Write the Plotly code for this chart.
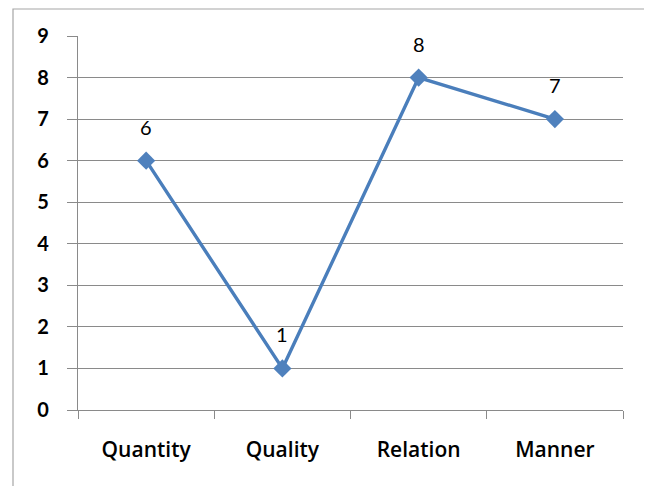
import plotly.graph_objects as go

categories = ["Quantity", "Quality", "Relation", "Manner"]
values = [6, 1, 8, 7]
y_ticks = [0, 1, 2, 3, 4, 5, 6, 7, 8, 9]

W, H = 652, 486
OFF = 8  # browser body margin
L, R, T, B = 78 - OFF, 29 + OFF, 36 - OFF, 76 + OFF
pw, ph = W - L - R, H - T - B

def px_to_paper_x(px):
    return (px - OFF - L) / pw

def px_to_paper_y(py):
    return (H - B - (py - OFF)) / ph

font_family = "Lato, 'Open Sans', sans-serif"
cat_font = "'Open Sans', Lato, sans-serif"
grid_col = "#8a8a8a"

fig = go.Figure()
fig.add_trace(go.Scatter(
    x=categories, y=values,
    mode="lines+markers",
    line=dict(color="#4A7EBB", width=3.4),
    marker=dict(symbol="diamond", size=14, color="#4F81BD"),
    showlegend=False,
    hoverinfo="skip",
))

for c, v in zip(categories, values):
    fig.add_annotation(x=c, y=v, text=str(v), showarrow=False, yshift=34,
                       font=dict(family=font_family, size=20, color="#000000"))

fig.add_shape(type="rect", xref="paper", yref="paper",
              x0=px_to_paper_x(13), x1=px_to_paper_x(651),
              y0=px_to_paper_y(520), y1=px_to_paper_y(9),
              line=dict(color="#a6a6a6", width=1.2), fillcolor="rgba(0,0,0,0)",
              layer="below")

fig.update_layout(
    width=W, height=H,
    margin=dict(l=L, r=R, t=T, b=B, pad=0),
    paper_bgcolor="white", plot_bgcolor="white",
    font=dict(family=font_family, size=18, color="#000000"),
    xaxis=dict(
        type="category", range=[-0.5, 3.5],
        showgrid=False, showline=True, linecolor=grid_col, linewidth=1.3,
        ticks="outside", tickson="boundaries", ticklen=8, tickcolor=grid_col,
        tickwidth=1.3, ticklabelstandoff=21,
        tickfont=dict(family=cat_font, size=21, color="#000000", weight=600),
        zeroline=False, fixedrange=True,
    ),
    yaxis=dict(
        range=[0, 9], tickvals=y_ticks, ticktext=[str(t) for t in y_ticks],
        showgrid=True, gridcolor=grid_col, gridwidth=1.3,
        showline=True, linecolor=grid_col, linewidth=1.3,
        ticks="outside", ticklen=10, tickcolor=grid_col, tickwidth=1.3,
        ticklabelstandoff=14,
        tickfont=dict(family=font_family, size=20, color="#000000", weight="bold"),
        zeroline=False, fixedrange=True,
    ),
)

fig.write_html("out.html")
